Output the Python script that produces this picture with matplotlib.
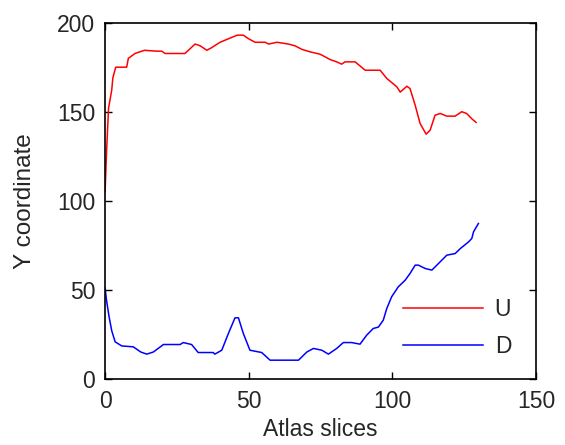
import numpy as np
import matplotlib
matplotlib.use('Agg')
import matplotlib.pyplot as plt

# values
u_x = [0, 0.5, 1.2, 2.3, 2.7, 3.7, 7.5, 8.1, 10.4, 13.7, 18, 19.7, 20.9, 27.8, 31.3,
       33.1, 35.4, 37.1, 40, 44, 46, 48.1, 49.9, 52.2, 55.7, 56.9, 59.8, 63.8, 66.1,
       68.5, 71.4, 74.8, 78.3, 80.6, 82.3, 83.5, 87, 90.5, 95.7, 98, 101.5, 102.7,
       105, 106.1, 107.9, 109.6, 111.7, 113.1, 114.8, 116.6, 118.9, 121.8, 124.1,
       125.8, 127.6, 129.1]
u_y = [105, 127, 152, 162, 169, 175, 175, 180, 182.7, 184.5, 184, 184, 182.7, 182.7, 188,
       187, 184.5, 186, 189, 191.7, 193, 193, 191, 189, 189, 188, 189, 188, 187,
       185, 183.6, 182.3, 179.3, 178, 176.7, 178, 178, 173.3, 173.3, 168.7, 164, 161,
       164.3, 163, 153.6, 143.4, 137.4, 139.6, 148, 149, 147.5, 147.5, 150,
       149, 146, 144]

d_x = [0, 0.5, 1.4, 2.3, 3.5, 5.8, 9.8, 12.4, 14.5, 16.8, 20.3, 26.1, 27.2, 30.1, 32.4,
       37.6, 38.2, 40.6, 42.9, 45.2, 46.4, 48.1, 50.4, 54.5, 57.4, 60.3, 67.3, 70.2,
       72.5, 75.4, 77.7, 80.6, 82.9, 85.8, 88.7, 91, 93.3, 95.1, 96.8, 98, 99.7, 102,
       104.4, 106.1, 107.9, 109, 111.4, 113.7, 116, 118.9, 121.8, 123.6, 126.5, 127.6,
       128.2, 129.9]
d_y = [51, 44, 34.7, 27, 20.7, 18.4, 17.9, 15, 13.8, 15, 19.2, 19.2, 20.3, 19.2, 14.7,
       14.7, 13.8, 16, 25.4, 34.2, 34.2, 25.4, 16, 14.7, 10.4, 10.4, 10.4, 15,
       17, 16, 13.8, 17, 20.3, 20.3, 19.4, 24.4, 28.2, 29, 32.9, 39.4, 46, 51.6,
       55.3, 59.1, 63.8, 63.8, 61.9, 61, 64.7, 69.4, 70.3, 73.1, 76.9, 78.8,
       82.5, 87.2]

plt.rcParams['font.family'] = ['Liberation Sans', 'DejaVu Sans']
txt = '#262626'

fig = plt.figure(figsize=(5.65, 4.45), dpi=100)
ax = fig.add_axes([0.186, 0.149, 0.763, 0.8])
ax.plot(u_x, u_y, color='#ff0000', lw=1.1, label='U')
ax.plot(d_x, d_y, color='#0000ff', lw=1.1, label='D')
ax.set_xlim(0, 150)
ax.set_ylim(0, 200)
ax.set_xticks([0, 50, 100, 150])
ax.set_yticks([0, 50, 100, 150, 200])
ax.tick_params(direction='in', top=True, right=True, labelsize=16.5, length=5, width=1,
               labelcolor=txt)
ax.tick_params(axis='x', pad=8)
ax.tick_params(axis='y', pad=7)
for s in ax.spines.values():
    s.set_linewidth(1.2)
ax.set_xlabel('Atlas slices', fontsize=16.5, labelpad=4, color=txt)
ax.set_ylabel('Y coordinate', fontsize=17.5, labelpad=15, color=txt)
leg = ax.legend(loc='lower right', frameon=False, fontsize=16.5, handlelength=3.5,
                labelspacing=0.6, handletextpad=0.5, bbox_to_anchor=(0.99, 0.0))
for t in leg.get_texts():
    t.set_color(txt)
fig.savefig('out.png', dpi=100)
